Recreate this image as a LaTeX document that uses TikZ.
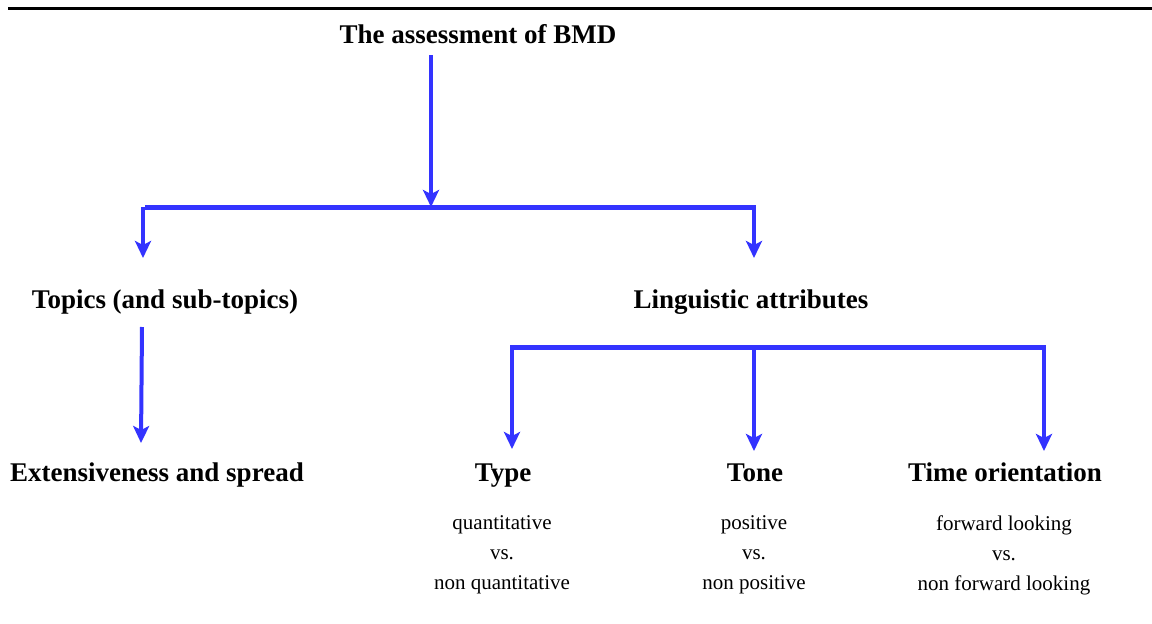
\documentclass[tikz,border=0pt]{standalone}
\usepackage{fontspec}
\setmainfont{Liberation Serif}
\usetikzlibrary{arrows.meta}
\definecolor{arrowblue}{RGB}{51,51,255}
\tikzset{
	head/.style={font=\bfseries\fontsize{27}{30}\selectfont, inner sep=0pt, anchor=base},
	sub/.style={font=\fontsize{21}{30}\selectfont, align=center, inner sep=0pt},
	bar/.style={draw=arrowblue, line width=5pt},
	arr/.style={draw=arrowblue, line width=4pt, -{Stealth[length=17pt, width=16pt, inset=4pt]}}
}
\begin{document}
\begin{tikzpicture}[x=1pt, y=-1pt]
		\useasboundingbox (0,0) rectangle (1152,624);
		\draw [line width=3pt] (8,8)--(1152,8);
		% top level
		\node[head] (bmd) at (478,43) {The assessment of BMD};
		\node[head] (topics) at (165,308) {Topics (and sub-topics)};
		\node[head] (ling) at (751,308) {Linguistic attributes};
		\coordinate (t0) at (431,55);
		\coordinate (t1) at (145,207);
		\coordinate (t2) at (756,207);
		\coordinate (tl) at (143,258);
		\coordinate (tr) at (754,258);
		\draw [arr] (t0)--(t0 |- t1);
		\draw [bar] (t1)--(t2);
		\draw [arr] (tl |- t1)--(tl);
		\draw [arr] (tr |- t1)--(tr);
		% second level
		\node[head] (spread) at (157,481) {Extensiveness and spread};
		\node[head] (type) at (503,481) {Type};
		\node[head] (tone) at (755,481) {Tone};
		\node[head] (time) at (1005,481) {Time orientation};
		\coordinate (s0) at (142,327);
		\coordinate (s1) at (141,443);
		\draw [arr] (s0)--(s1);
		\coordinate (l1) at (510,347);
		\coordinate (l2) at (1046,347);
		\draw [bar] (l1)--(l2);
		\draw [arr] (512,345)--(512,449);
		\draw [arr] (754,350)--(754,451);
		\draw [arr] (1044,345)--(1044,451);
		% the three attributes
		\node[sub] (typetxt) at (502,555) {quantitative\\vs.\\non quantitative};
		\node[sub] (tonetxt) at (754,555) {positive\\vs.\\non positive};
		\node[sub] (timetxt) at (1004,555) {forward looking\\vs.\\non forward looking};
	\end{tikzpicture}
\end{document}
